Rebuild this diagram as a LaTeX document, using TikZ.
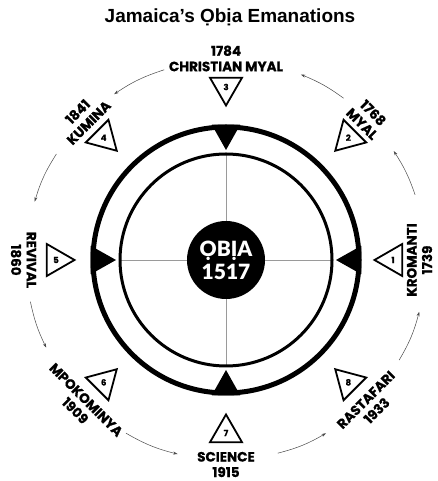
\documentclass[tikz,border=0pt]{standalone}
\usepackage{fontspec}
\usepackage{tikz}
\usetikzlibrary{arrows.meta,shapes.geometric}
\setmainfont{Liberation Sans}
\newfontfamily\labelfont{Poppins}[BoldFeatures={FakeBold=0.8}]
\newfontfamily\corefont{Lato Black}
\definecolor{ink}{HTML}{000000}
\definecolor{muted}{HTML}{4A4A4A}
\definecolor{line}{HTML}{9A9A9A}

\begin{document}
\begin{tikzpicture}[
  x=1pt,
  y=1pt,
  title/.style={font=\fontsize{19}{22}\selectfont\bfseries,text=ink},
  core/.style={
    circle,minimum size=78pt,inner sep=0pt,fill=ink,text=white,
    align=center,font=\corefont\fontsize{21}{23}\selectfont
  },
  marker/.style={
    regular polygon,regular polygon sides=3,minimum size=37pt,inner sep=0pt,
    draw=ink,line width=1.8pt,fill=white,font=\labelfont\bfseries\fontsize{8.5}{9}\selectfont
  },
  era/.style={
    align=center,inner sep=0pt,text=ink,
    font=\labelfont\bfseries\fontsize{13.5}{15.5}\selectfont
  },
  ring/.style={draw=ink,line width=5pt},
  innerring/.style={draw=ink,line width=3pt},
  axis/.style={draw=line,line width=0.6pt},
  pointer/.style={fill=ink},
  flow/.style={-{Stealth[length=4.5pt,width=3pt]},draw=muted,line width=0.5pt}
]
  \useasboundingbox (0,0) rectangle (438,481);
  \node[title,anchor=base] (heading) at (230,458) {Jamaica’s Ọbịa Emanations};

  \begin{scope}[shift={(226,221)}]
    \coordinate (ax-e) at (0:106);
    \coordinate (ax-n) at (90:106);
    \coordinate (ax-w) at (180:106);
    \coordinate (ax-s) at (270:106);
    \node[core] (core) at (0,0) {ỌBỊA\\1517};
    \draw[axis] (core.east) -- (ax-e);
    \draw[axis] (core.north) -- (ax-n);
    \draw[axis] (core.west) -- (ax-w);
    \draw[axis] (core.south) -- (ax-s);
    \path[ring] (0,0) circle[radius=133];
    \path[innerring] (0,0) circle[radius=106];
    \fill[pointer] (0:110) -- (6:136) -- (-6:136) -- cycle;
    \fill[pointer] (90:110) -- (96:136) -- (84:136) -- cycle;
    \fill[pointer] (180:110) -- (186:136) -- (174:136) -- cycle;
    \fill[pointer] (270:110) -- (276:136) -- (264:136) -- cycle;

    \node[marker,shape border rotate=90] (m1) at (0:167) {1};
    \node[marker,shape border rotate=135] (m2) at (45:173) {2};
    \node[marker,shape border rotate=180] (m3) at (90:173) {3};
    \node[marker,shape border rotate=225] (m4) at (135:173) {4};
    \node[marker,shape border rotate=270] (m5) at (180:170) {5};
    \node[marker,shape border rotate=315] (m6) at (225:173) {6};
    \node[marker] (m7) at (270:173) {7};
    \node[marker,shape border rotate=45] (m8) at (315:173) {8};

    \node[era,rotate=90] (era1) at (0:193.5) {KROMANTI\\1739};
    \node[era,rotate=-45] (era2) at (45:200.5) {1768\\MYAL};
    \node[era] (era3) at (90:201.5) {1784\\CHRISTIAN MYAL};
    \node[era,rotate=45] (era4) at (135:202) {1841\\KUMINA};
    \node[era,rotate=-90] (era5) at (180:202.5) {REVIVAL\\1860};
    \node[era,rotate=-45] (era6) at (225:205.5) {MPOKOMINYA\\1909};
    \node[era] (era7) at (270:204.5) {SCIENCE\\1915};
    \node[era,rotate=45] (era8) at (315:205.5) {RASTAFARI\\1933};

    \coordinate (f1a) at (19:200);
    \coordinate (f1b) at (33:200);
    \coordinate (f2a) at (54:200);
    \coordinate (f2b) at (68:200);
    \coordinate (f3a) at (108:200);
    \coordinate (f3b) at (124:200);
    \coordinate (f4a) at (148:200);
    \coordinate (f4b) at (163:200);
    \coordinate (f5a) at (192:200);
    \coordinate (f5b) at (206:200);
    \coordinate (f6a) at (240:200);
    \coordinate (f6b) at (256:200);
    \coordinate (f7a) at (285:200);
    \coordinate (f7b) at (300:200);
    \coordinate (f8a) at (330:200);
    \coordinate (f8b) at (345:200);
    \draw[flow] (f1a) to[bend right=7] (f1b);
    \draw[flow] (f2a) to[bend right=7] (f2b);
    \draw[flow] (f3a) to[bend right=8] (f3b);
    \draw[flow] (f4a) to[bend right=8] (f4b);
    \draw[flow] (f5a) to[bend right=7] (f5b);
    \draw[flow] (f6a) to[bend right=8] (f6b);
    \draw[flow] (f7a) to[bend right=8] (f7b);
    \draw[flow] (f8a) to[bend right=8] (f8b);
  \end{scope}
\end{tikzpicture}
\end{document}
